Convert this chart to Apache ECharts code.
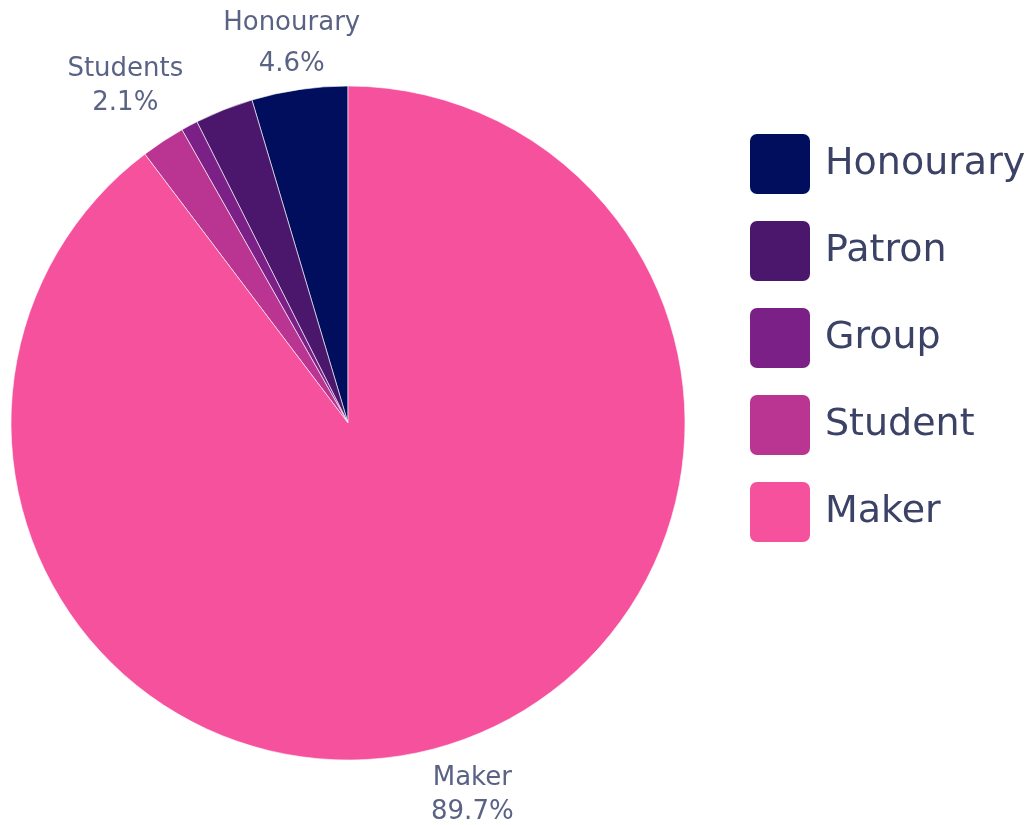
<!DOCTYPE html>
<html>
<head>
<meta charset="utf-8">
<script src="https://cdn.jsdelivr.net/npm/echarts@6/dist/echarts.min.js"></script>
<style>
  html, body { margin: 0; padding: 0; background: #fff; }
  #chart { width: 1034px; height: 825px; }
</style>
</head>
<body>
<div id="chart"></div>
<script>
// membership share (%)
const categories = ['Honourary', 'Patron', 'Group', 'Student', 'Maker']
const shares = [4.6, 2.8, 0.8, 2.1, 89.7]
// slice labels (only some are shown on the chart)
const labelNames = ['Honourary', 'Patron', 'Group', 'Students', 'Maker']
const labelShown = [true, false, false, true, true]

const colors = ['#010e5d', '#4a176c', '#7b2087', '#ba3591', '#f5519c']
const labelColor = '#5b6385'
const legendColor = '#3b4266'
const font = 'DejaVu Sans, sans-serif'

const iconPath = 'path://M8,0 H54 A8,8 0 0 1 62,8 V54 A8,8 0 0 1 54,62 H8 A8,8 0 0 1 0,54 V8 A8,8 0 0 1 8,0 Z'

// per-label tweaks so the text sits where the original put it
const labelTweaks = [
  { offset: [0, 8], lineHeight: 41 },
  null,
  null,
  { offset: [-8, -10] },
  { offset: [0, 2] }
]

const chart = echarts.init(document.getElementById('chart'), null, { renderer: 'canvas' })

const option = {
  backgroundColor: '#fff',
  animation: false,
  textStyle: { fontFamily: font },
  legend: {
    orient: 'vertical',
    left: 743,
    top: 127,
    itemWidth: 62,
    itemHeight: 62,
    itemGap: 23,
    icon: iconPath,
    textStyle: { fontSize: 38, color: legendColor, fontFamily: font, padding: [4, 0, 0, 9] },
    data: categories.map((name, i) => ({ name, itemStyle: { color: colors[i] } }))
  },
  series: [
    {
      name: 'Members',
      type: 'pie',
      center: [348, 423],
      radius: 337,
      startAngle: 90,
      clockwise: false,
      silent: true,
      label: { show: false },
      labelLine: { show: false },
      itemStyle: { borderColor: '#fff', borderWidth: 0.6 },
      data: categories.map((name, i) => ({
        name,
        value: shares[i],
        itemStyle: { color: colors[i] }
      }))
    },
    {
      // transparent ring used only to place the slice labels
      name: 'Labels',
      type: 'pie',
      center: [348, 423],
      radius: [378, 398],
      startAngle: 90,
      clockwise: false,
      silent: true,
      itemStyle: { color: 'rgba(0,0,0,0)' },
      labelLine: { show: false },
      label: {
        position: 'inside',
        fontFamily: font,
        fontSize: 26,
        lineHeight: 34,
        color: labelColor,
        formatter: p => labelNames[p.dataIndex] + '\n' + shares[p.dataIndex].toFixed(1) + '%'
      },
      data: categories.map((name, i) => ({
        name,
        value: shares[i],
        label: labelShown[i] ? Object.assign({ show: true }, labelTweaks[i]) : { show: false }
      }))
    }
  ]
}

chart.setOption(option)
</script>
</body>
</html>
